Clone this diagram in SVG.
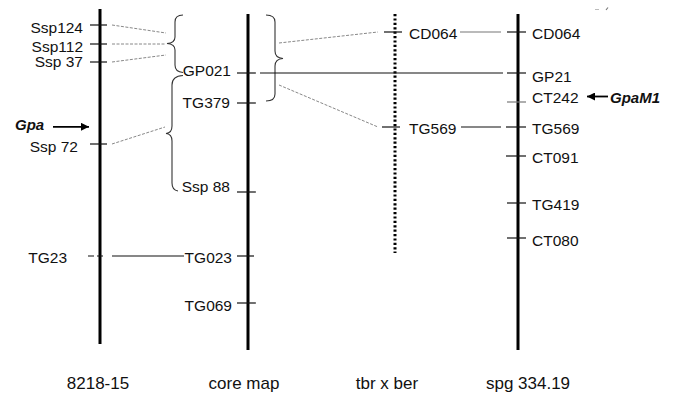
<svg xmlns="http://www.w3.org/2000/svg" width="673" height="397" viewBox="0 0 673 397">
<style>
text{font-family:"Liberation Sans",Arial,sans-serif;font-size:15.5px;fill:#111}
.r{text-anchor:end}
.t{font-size:17px;text-anchor:middle}
.bi{font-weight:bold;font-style:italic;font-size:15px}
.bar{stroke:#000;stroke-width:3;fill:none}
.tick{stroke:#111;stroke-width:1.2}
.gt{stroke:#777;stroke-width:1.2}
.dot{stroke:#888;stroke-width:1;stroke-dasharray:3 1.5;fill:none}
.sol{stroke:#111;stroke-width:1.1}
.gray{stroke:#777;stroke-width:1.1}
.brace{stroke:#333;stroke-width:1.1;fill:none}
</style>
<defs>
<marker id="ah" viewBox="0 0 10 10" refX="10" refY="5" markerWidth="9" markerHeight="8" markerUnits="userSpaceOnUse" orient="auto">
<path d="M0,0 L10,5 L0,10 Z" fill="#000"/>
</marker>
</defs>

<g id="map-8218-15">
<line class="bar" x1="100" y1="9" x2="100" y2="344"/>
<line class="tick" x1="90" y1="25" x2="107" y2="25"/>
<line class="tick" x1="90" y1="44" x2="107" y2="44"/>
<line class="tick" x1="90" y1="62" x2="107" y2="62"/>
<line class="tick" x1="90" y1="144" x2="107" y2="144"/>
<line class="tick" x1="88" y1="256" x2="106" y2="256" stroke-dasharray="6 3"/>
<text class="r" x="83" y="33">Ssp124</text>
<text class="r" x="83" y="51.5">Ssp112</text>
<text class="r" x="83" y="67">Ssp 37</text>
<text class="r" x="78" y="151.5">Ssp 72</text>
<text class="r" x="67" y="263">TG23</text>
<text class="t" x="98" y="389">8218-15</text>
</g>

<g id="gpa">
<text class="bi" x="15" y="129.5">Gpa</text>
<line x1="53" y1="126.8" x2="89" y2="126.8" stroke="#000" stroke-width="1.8" marker-end="url(#ah)"/>
</g>

<g id="map-core">
<line class="bar" x1="248" y1="14" x2="248" y2="350"/>
<line class="tick" x1="237" y1="73" x2="256" y2="73"/>
<line class="tick" x1="237" y1="103" x2="256" y2="103"/>
<line class="tick" x1="237" y1="192" x2="256" y2="192"/>
<line class="tick" x1="237" y1="256" x2="254" y2="256"/>
<line class="tick" x1="237" y1="303" x2="256" y2="303"/>
<text class="r" x="231" y="76">GP021</text>
<text class="r" x="230" y="107.5">TG379</text>
<text class="r" x="230" y="192">Ssp 88</text>
<text class="r" x="232" y="263">TG023</text>
<text class="r" x="232" y="310.5">TG069</text>
<text class="t" x="244" y="389">core map</text>
</g>

<g id="map-tbr-ber">
<line x1="395" y1="14" x2="395" y2="253" stroke="#000" stroke-width="3" stroke-dasharray="2.2 2.2"/>
<line class="tick" x1="384" y1="32" x2="402" y2="32"/>
<line class="tick" x1="382" y1="127" x2="400" y2="127"/>
<text x="409" y="39">CD064</text>
<text x="409" y="133.5">TG569</text>
<text class="t" x="387" y="389">tbr x ber</text>
</g>

<g id="map-spg">
<line class="bar" x1="518" y1="14" x2="518" y2="350"/>
<line class="tick" x1="507" y1="32" x2="526" y2="32"/>
<line class="tick" x1="507" y1="73" x2="526" y2="73"/>
<line class="gt" x1="507" y1="102" x2="526" y2="102"/>
<line class="tick" x1="506" y1="127" x2="526" y2="127"/>
<line class="tick" x1="506" y1="156" x2="526" y2="156"/>
<line class="tick" x1="507" y1="203" x2="526" y2="203"/>
<line class="tick" x1="507" y1="238" x2="526" y2="238"/>
<text x="532" y="39">CD064</text>
<text x="532" y="81.5">GP21</text>
<text x="532" y="103">CT242</text>
<text x="532" y="133.5">TG569</text>
<text x="532" y="163">CT091</text>
<text x="532" y="210">TG419</text>
<text x="532" y="245.5">CT080</text>
<text class="t" x="528" y="389">spg 334.19</text>
</g>

<g id="gpam1">
<line x1="608" y1="96.5" x2="587" y2="96.5" stroke="#000" stroke-width="1.8" marker-end="url(#ah)"/>
<text class="bi" x="610" y="103">GpaM1</text>
</g>

<g id="braces">
<path class="brace" d="M183,15 Q175,15 175,22 L175,37 Q175,43 167,43.5 Q175,44 175,50 L175,65 Q175,72 183,72.5"/>
<path class="brace" d="M183,75.5 Q172,76 172,85 L172,126 Q172,133 166,133.5 Q172,134 172,141 L172,183 Q172,190 178,191"/>
<path class="brace" d="M266,15 Q275,15 275,22 L275,51 Q275,58 283,58.5 Q275,59 275,66 L275,94 Q275,101 266,101"/>
</g>

<g id="connectors">
<line class="dot" x1="112" y1="25" x2="166" y2="33"/>
<line class="dot" x1="112" y1="44" x2="166" y2="44"/>
<line class="dot" x1="112" y1="62" x2="166" y2="55"/>
<line class="dot" x1="112" y1="144" x2="165" y2="127"/>
<line class="sol" x1="112" y1="256" x2="184" y2="256"/>
<line class="dot" x1="279" y1="43" x2="378" y2="32"/>
<line class="dot" x1="279" y1="85" x2="378" y2="127"/>
<line class="sol" x1="260" y1="73" x2="503" y2="73"/>
<line class="gray" x1="460" y1="32" x2="501" y2="32"/>
<line class="sol" x1="461" y1="127" x2="501" y2="127"/>
</g>

<g id="marks">
<line x1="595" y1="9.5" x2="599" y2="9.5" stroke="#bbb" stroke-width="1"/>
<line x1="606" y1="10" x2="608" y2="7.5" stroke="#777" stroke-width="1.2"/>
</g>
</svg>
